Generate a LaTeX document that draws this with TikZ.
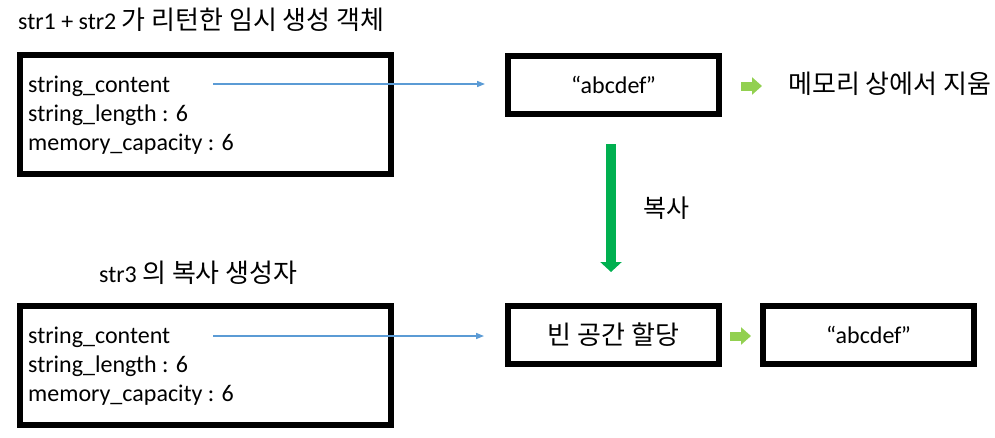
\documentclass[tikz,border=0pt]{standalone}
\usepackage{fontspec}
\setmainfont{Carlito}
\newfontfamily\kr{Noto Sans CJK KR}
\usetikzlibrary{arrows.meta}
\definecolor{cptr}{HTML}{5B9BD5}
\definecolor{cstep}{HTML}{92D050}
\definecolor{ccopy}{HTML}{00B050}
\newcommand{\krfont}{\kr\fontsize{26}{29}\selectfont}
\tikzset{
  objbox/.style={draw=black,line width=6pt,minimum width=371pt,minimum height=119pt},
  valbox/.style={draw=black,line width=6pt,minimum width=211pt,minimum height=58pt,
    inner sep=0pt,font=\fontsize{24}{29}\selectfont},
  field/.style={anchor=west,inner sep=0pt,font=\fontsize{24}{29}\selectfont},
  caption/.style={anchor=west,inner sep=0pt,font=\fontsize{24}{29}\selectfont},
  krtext/.style={anchor=west,inner sep=0pt,font=\krfont},
  ptr/.style={cptr,line width=1.5pt,-{Triangle[length=8pt,width=6pt]}},
  steparrow/.style={cstep,line width=9pt,-{Triangle[length=10pt,width=17pt]}},
  copyarrow/.style={ccopy,line width=10pt,-{Triangle[length=10pt,width=21pt]}}
}

\begin{document}
\begin{tikzpicture}[x=1pt,y=-1pt]
  \useasboundingbox (0,0) rectangle (995,437);

  % temporary object returned by str1 + str2
  \node[caption] (title1) at (18,20) {str1 + str2 {\krfont 가 리턴한 임시 생성 객체}};
  \node[objbox] (obj1) at (205,114.5) {};
  \node[field] (content1) at (28,86) {string\_content};
  \node[field] (length1) at (28,115) {string\_length : 6};
  \node[field] (capacity1) at (28,144) {memory\_capacity : 6};
  \node[valbox] (tmpval) at (613.5,85) {“abcdef\kern-0.8pt”};
  \node[krtext] (erase) at (788,84) {메모리 상에서 지움};

  % str3 copy constructor
  \node[caption] (title2) at (99,273) {str3 {\krfont 의 복사 생성자}};
  \node[objbox] (obj2) at (205,365.5) {};
  \node[field] (content2) at (28,337) {string\_content};
  \node[field] (length2) at (28,366) {string\_length : 6};
  \node[field] (capacity2) at (28,395) {memory\_capacity : 6};
  \node[valbox,font=\krfont] (alloc) at (613.5,335) {빈 공간 할당};
  \node[valbox] (copyval) at (868.5,335) {“abcdef\kern-0.8pt”};

  \node[krtext,font=\kr\fontsize{25}{29}\selectfont] (copylbl) at (643,208) {복사};

  \coordinate (ptr1) at (213,84);
  \coordinate (ptr2) at (213,336);
  \draw[ptr,shorten >=20pt] (ptr1) -- (ptr1 -| tmpval.west);
  \draw[ptr,shorten >=21pt] (ptr2) -- (ptr2 -| alloc.west);

  \draw[steparrow,shorten <=19pt,shorten >=26pt] ([yshift=-1pt]tmpval.east) -- ([yshift=-1pt]tmpval.east -| erase.west);
  \draw[steparrow,shorten <=8pt,shorten >=9pt] ([yshift=-1pt]alloc.east) -- ([yshift=-1pt]copyval.west);
  \draw[copyarrow,shorten <=27pt,shorten >=31pt] ([xshift=-2.5pt]tmpval.south) -- ([xshift=-2.5pt]alloc.north);
\end{tikzpicture}
\end{document}
